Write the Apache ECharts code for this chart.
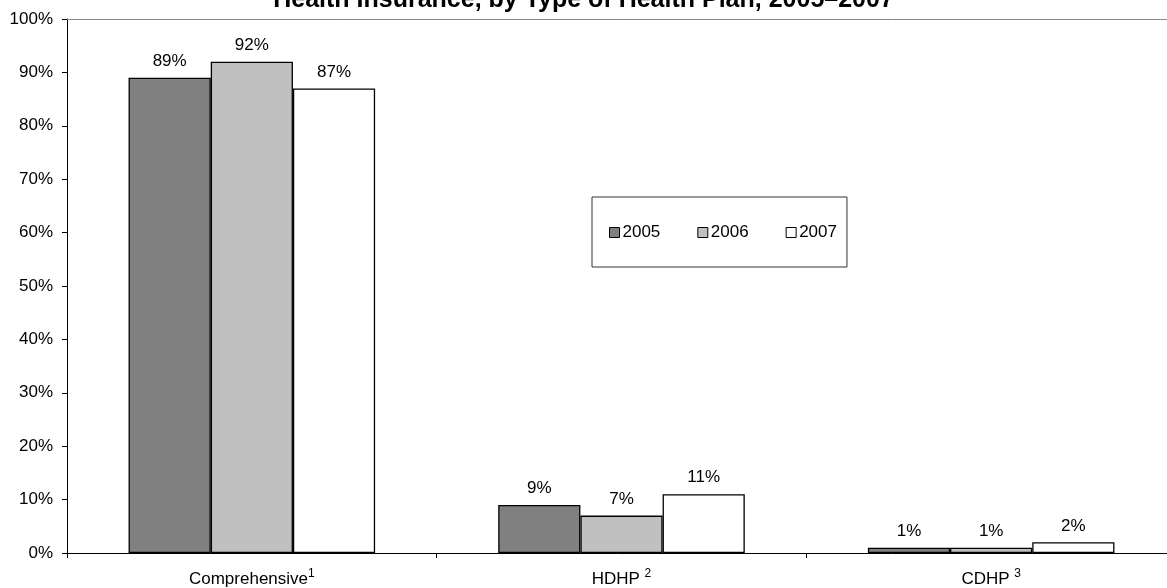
<!DOCTYPE html>
<html>
<head>
<meta charset="utf-8">
<script src="https://cdn.jsdelivr.net/npm/echarts@6/dist/echarts.min.js"></script>
<style>html,body{margin:0;padding:0;background:#fff}#c{width:1167px;height:588px}</style>
</head>
<body>
<div id="c"></div>
<script>
const titleText = 'Health Insurance, by Type of Health Plan, 2005\u20132007';
const categories = ['Comprehensive', 'HDHP', 'CDHP'];
const footnotes = ['1', '2', '3'];
const catSpace = ['', ' ', ' '];
const years = ['2005', '2006', '2007'];
const v2005 = [89, 9, 1];
const v2006 = [92, 7, 1];
const v2007 = [87, 11, 2];
const colors = ['#808080', '#c0c0c0', '#ffffff'];

const font = 'Arial, "Liberation Sans", sans-serif';
const chart = echarts.init(document.getElementById('c'), null, {renderer: 'canvas'});
const seriesData = [v2005, v2006, v2007];
const series = years.map((y, i) => ({
  name: y,
  type: 'bar',
  data: seriesData[i],
  barGap: '0%',
  barCategoryGap: '33.3%',
  itemStyle: {color: colors[i], borderColor: '#000', borderWidth: 1.3},
  label: {show: true, position: 'top', distance: 8, formatter: p => p.value + '%',
    fontFamily: font, fontSize: 17, color: '#000'},
  emphasis: {disabled: true}
}));
series.push({type: 'bar', xAxisIndex: 1, data: [], silent: true});

chart.setOption({
  animation: false,
  backgroundColor: '#fff',
  title: {text: titleText, left: 'center', top: -17,
    textStyle: {fontFamily: font, fontSize: 25, fontWeight: 'bold', color: '#000'}},
  legend: {data: years, left: 592, top: 197, orient: 'horizontal',
    itemWidth: 10, itemHeight: 10, itemGap: 37,
    padding: [27, 10, 26, 17], borderColor: '#333', borderWidth: 1,
    icon: 'rect', selectedMode: false,
    itemStyle: {borderColor: '#000', borderWidth: 1},
    textStyle: {fontFamily: font, fontSize: 17, color: '#000', padding: [0, 0, 0, -2]}},
  grid: {left: 67, top: 19, bottom: 35, right: -9, containLabel: false, outerBoundsMode: 'none'},
  xAxis: [{
    type: 'category', data: categories,
    axisLine: {lineStyle: {color: '#000', width: 1}},
    axisTick: {show: true, length: 5, inside: false, lineStyle: {color: '#000'}},
    axisLabel: {margin: 15, interval: 0, fontFamily: font, fontSize: 17, color: '#000',
      formatter: (v, i) => '{b|' + v + catSpace[i] + '}{s|' + footnotes[i] + '}',
      rich: {b: {fontFamily: font, fontSize: 17, lineHeight: 20, verticalAlign: 'bottom', color: '#000'},
             s: {fontFamily: font, fontSize: 12, lineHeight: 20, verticalAlign: 'top', color: '#000', padding: [0, 0, 14, 0]}}}
  }, {
    type: 'category', data: categories, position: 'top',
    axisLine: {show: true, lineStyle: {color: '#888', width: 1}},
    axisTick: {show: false}, axisLabel: {show: false}
  }],
  yAxis: {
    type: 'value', min: 0, max: 100, interval: 10,
    axisLine: {show: true, lineStyle: {color: '#000'}},
    axisTick: {show: true, length: 5, lineStyle: {color: '#000'}},
    splitLine: {show: false},
    axisLabel: {margin: 14, formatter: v => v + '%', fontFamily: font, fontSize: 17, color: '#000'}
  },
  series: series
});
</script>
</body>
</html>
